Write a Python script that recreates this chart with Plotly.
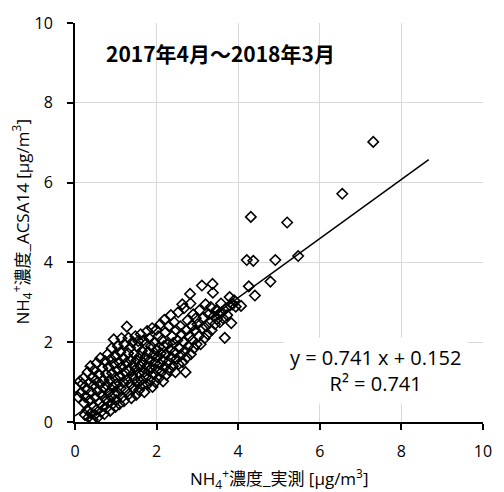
import plotly.graph_objects as go

# measured (x) vs ACSA14 (y) NH4+ concentrations [ug/m3]
measured = [
    0.02, 0.08, 0.12, 0.15, 0.18, 0.21, 0.22, 0.25, 0.24,
    0.28, 0.30, 0.31, 0.33, 0.35, 0.36, 0.38, 0.39, 0.40, 0.42, 0.43, 0.45, 0.46, 0.47, 0.48, 0.49,
    0.51, 0.52, 0.53, 0.55, 0.56, 0.58, 0.60, 0.61, 0.62, 0.64, 0.65, 0.67, 0.68, 0.70, 0.71, 0.72, 0.74, 0.74,
    0.76, 0.77, 0.78, 0.80, 0.81, 0.82, 0.84, 0.85, 0.86, 0.88, 0.89, 0.90, 0.91, 0.92, 0.93, 0.95, 0.95, 0.96, 0.98, 0.99,
    1.00, 1.01, 1.02, 1.04, 1.05, 1.06, 1.08, 1.09, 1.10, 1.11, 1.12, 1.14, 1.15, 1.16, 1.18, 1.19, 1.20, 1.21, 1.22, 1.24,
    1.26, 1.27, 1.28, 1.30, 1.31, 1.32, 1.33, 1.35, 1.36, 1.37, 1.38, 1.40, 1.41, 1.42, 1.44, 1.45, 1.46, 1.48, 1.49, 1.50,
    1.51, 1.52, 1.53, 1.55, 1.56, 1.57, 1.59, 1.60, 1.61, 1.62, 1.64, 1.65, 1.66, 1.68, 1.69, 1.70, 1.72, 1.73, 1.74,
    1.76, 1.77, 1.78, 1.80, 1.81, 1.82, 1.84, 1.85, 1.86, 1.88, 1.89, 1.90, 1.92, 1.93, 1.95, 1.96, 1.97, 1.99, 1.99,
    2.01, 2.02, 2.04, 2.05, 2.06, 2.08, 2.09, 2.10, 2.12, 2.13, 2.15, 2.16, 2.18, 2.19, 2.20, 2.22, 2.23, 2.24,
    2.26, 2.28, 2.30, 2.31, 2.33, 2.35, 2.36, 2.38, 2.40, 2.41, 2.43, 2.44, 2.46, 2.48, 2.49,
    2.51, 2.53, 2.54, 2.56, 2.58, 2.60, 2.61, 2.63, 2.64, 2.66, 2.67, 2.69, 2.71, 2.72, 2.74,
    2.76, 2.78, 2.80, 2.82, 2.83, 2.84, 2.86, 2.88, 2.90, 2.92, 2.94, 2.96, 2.98,
    3.00, 3.03, 3.05, 3.08, 3.11, 3.12, 3.15, 3.18, 3.20, 3.22, 3.25, 3.28, 3.30, 3.33, 3.35, 3.37, 3.38, 3.40, 3.43, 3.46, 3.48,
    3.52, 3.55, 3.58, 3.60, 3.63, 3.67, 3.70, 3.73, 3.79, 3.80, 3.83, 3.86, 3.94, 3.90,
    4.07, 4.26, 4.41, 4.79, 4.21, 4.37, 4.91, 5.47, 4.31, 5.20, 6.55, 7.31,
]
acsa14 = [
    0.86, 0.62, 1.02, 0.74, 0.95, 1.10, 0.48, 0.63, 0.18,
    0.82, 0.30, 1.25, 0.12, 0.98, 0.55, 1.40, 0.22, 0.75, 1.12, 0.06, 0.40, 0.92, 1.30, 0.18, 0.62,
    1.05, 0.30, 1.48, 0.78, 0.12, 1.20, 0.48, 0.95, 1.60, 0.25, 0.68, 1.35, 0.40, 1.05, 0.85, 0.20, 1.52, 0.58,
    1.20, 0.35, 0.92, 1.70, 0.50, 1.38, 0.75, 1.05, 0.28, 1.58, 0.62, 1.85, 1.22, 0.45, 0.88, 2.07, 1.45, 0.70, 1.10, 0.38,
    1.65, 0.55, 0.95, 1.30, 1.90, 0.72, 1.50, 0.45, 1.15, 1.75, 0.85, 2.10, 1.38, 0.62, 1.00, 1.60, 0.52, 1.95, 1.25, 0.80,
    1.48, 2.39, 1.05, 1.72, 2.11, 0.70, 1.30, 1.86, 0.95, 1.55, 0.60, 1.18, 2.00, 1.42, 0.85, 1.70, 1.08, 2.15, 1.32, 0.68,
    1.55, 0.98, 1.88, 2.03, 1.22, 0.80, 1.65, 1.40, 2.20, 1.05, 1.78, 0.92, 1.50, 2.05, 1.25, 0.75, 1.62, 1.95, 1.12,
    1.40, 2.28, 0.95, 1.75, 1.28, 2.10, 1.55, 1.05, 1.90, 1.35, 2.35, 0.88, 1.68, 1.20, 2.00, 1.48, 1.00, 2.31, 1.80,
    1.30, 1.62, 2.15, 1.10, 1.88, 1.45, 2.45, 1.72, 1.25, 2.05, 1.55, 1.02, 1.90, 2.56, 1.38, 2.25, 1.70, 1.18,
    1.95, 1.50, 2.40, 1.30, 1.82, 2.68, 1.62, 2.15, 1.40, 1.98, 2.50, 1.75, 1.25, 2.30, 1.58,
    2.05, 2.75, 1.45, 1.85, 2.40, 1.68, 2.20, 2.95, 1.50, 2.00, 2.85, 1.78, 1.25, 2.30, 1.62,
    2.55, 1.90, 2.15, 3.21, 2.97, 1.70, 2.42, 2.05, 2.70, 1.85, 2.30, 2.60, 1.95,
    2.45, 2.15, 2.80, 1.95, 3.42, 2.35, 2.62, 2.10, 2.95, 2.40, 2.20, 2.70, 2.50, 2.88, 2.30, 3.46, 3.24, 2.65, 2.45, 2.80, 2.58,
    2.70, 2.50, 2.97, 2.75, 2.60, 2.11, 2.85, 2.68, 3.13, 2.92, 2.48, 2.95, 2.89, 3.05,
    2.91, 3.40, 3.17, 3.52, 4.06, 4.04, 4.06, 4.16, 5.14, 5.00, 5.72, 7.02,
]

slope = 0.741
intercept = 0.152
fit_x = [0.0, 8.67]
fit_y = [slope * v + intercept for v in fit_x]

ticks = [0, 2, 4, 6, 8, 10]
title_text = "2017年4月～2018年3月"
eq_text = "y = 0.741 x + 0.152<br>R² = 0.741"
x_title = "NH<sub>4</sub><sup>+</sup>濃度_実測 [μg/m<sup>3</sup>]"
y_title = "NH<sub>4</sub><sup>+</sup>濃度_ACSA14 [μg/m<sup>3</sup>]"

FONT = "Open Sans, Noto Sans CJK JP, sans-serif"

fig = go.Figure()
fig.add_trace(go.Scatter(
    x=measured, y=acsa14, mode="markers",
    marker=dict(symbol="diamond-open", size=8, color="black",
                line=dict(width=1.6, color="black")),
    showlegend=False, hoverinfo="skip"))
fig.add_trace(go.Scatter(
    x=fit_x, y=fit_y, mode="lines",
    line=dict(color="black", width=1.5),
    showlegend=False, hoverinfo="skip"))

axis_common = dict(
    range=[0, 10], tickvals=ticks, ticktext=[str(t) for t in ticks],
    showgrid=True, gridcolor="#d9d9d9", gridwidth=1,
    zeroline=False, showline=True, linecolor="black", linewidth=2,
    ticks="outside", ticklen=6, tickwidth=1.5, tickcolor="black",
    tickfont=dict(family=FONT, size=16, color="black"),
    mirror=False, fixedrange=True,
)
fig.update_xaxes(**axis_common, ticklabelstandoff=8)
fig.update_yaxes(**axis_common, ticklabelstandoff=11)

fig.update_layout(
    width=504, height=492,
    margin=dict(l=75, r=12, t=16, b=70),
    plot_bgcolor="white", paper_bgcolor="white",
    font=dict(family=FONT, color="black"),
    annotations=[
        dict(text="<b>" + title_text + "</b>", xref="paper", yref="paper",
             x=0.071, y=0.924, xanchor="left", yanchor="middle",
             showarrow=False, font=dict(family="Noto Sans CJK JP, Open Sans", size=21, color="black")),
        dict(text=eq_text, xref="paper", yref="paper",
             x=0.737, y=0.129, xanchor="center", yanchor="middle", align="center",
             showarrow=False, bgcolor="white", borderpad=6,
             font=dict(family=FONT, size=20, color="black")),
        dict(text=x_title, xref="paper", yref="paper",
             x=0.5, y=0, xanchor="center", yanchor="middle", yshift=-56,
             showarrow=False, font=dict(family=FONT, size=17, color="black")),
        dict(text=y_title, xref="paper", yref="paper",
             x=0, y=0.5, xanchor="center", yanchor="middle", xshift=-53,
             textangle=-90, showarrow=False,
             font=dict(family=FONT, size=17, color="black")),
    ],
)

fig.write_html("out.html")
